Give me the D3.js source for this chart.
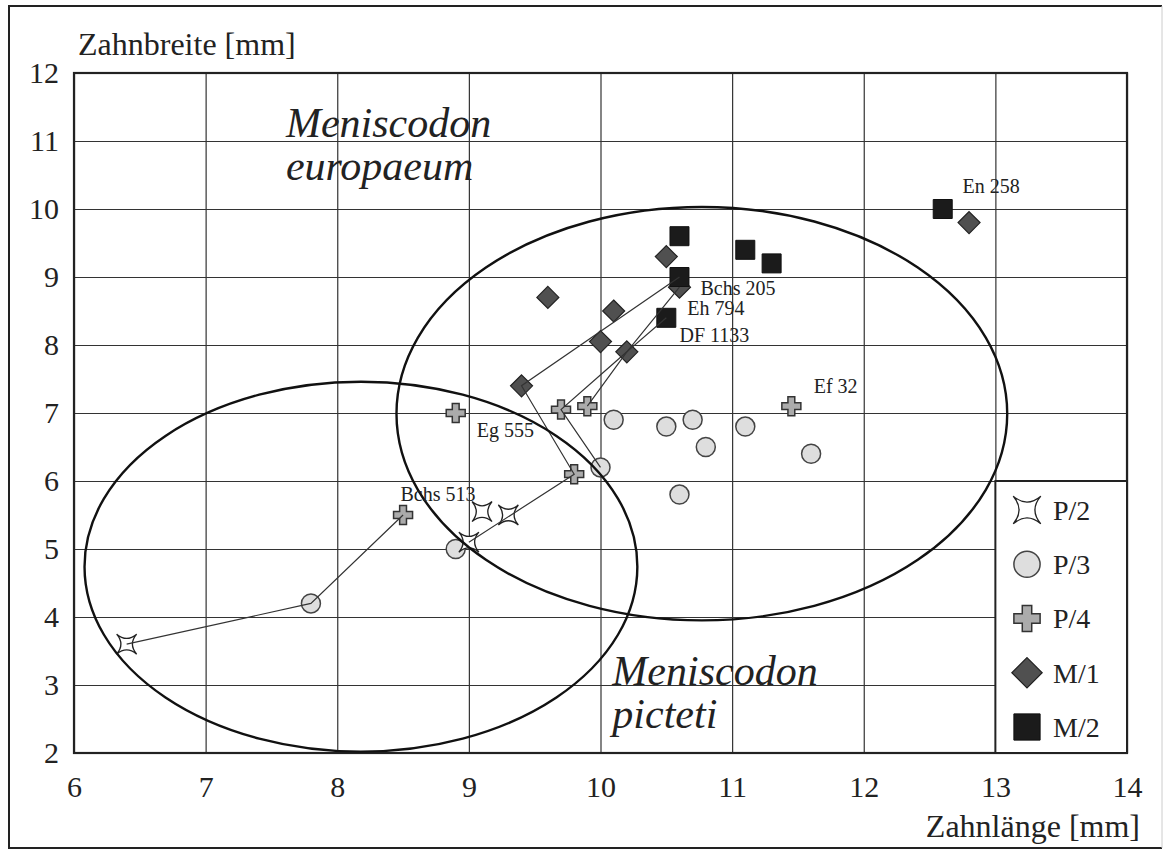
<!DOCTYPE html>
<html>
<head>
<meta charset="utf-8">
<script src="https://cdn.jsdelivr.net/npm/d3@7"></script>
<style>
  body { margin: 0; background: #fff; }
  svg { display: block; font-family: "Liberation Serif", "Times New Roman", serif; }
  svg text { font-family: "Liberation Serif", "Times New Roman", serif; }
</style>
</head>
<body>
<div id="chart"></div>
<script>
	// Data (Zahnlänge, Zahnbreite in mm)
	var p2Data = [[6.4, 3.6], [9.1, 5.55], [9.3, 5.5], [9.0, 5.1]];
	var p3Data = [[7.8, 4.2], [8.9, 5.0], [10.0, 6.2], [10.1, 6.9], [10.5, 6.8], [10.7, 6.9],
	              [10.8, 6.5], [11.1, 6.8], [11.6, 6.4], [10.6, 5.8]];
	var p4Data = [[8.5, 5.5], [8.9, 7.0], [9.7, 7.05], [9.9, 7.1], [9.8, 6.1], [11.45, 7.1]];
	var m1Data = [[9.4, 7.4], [9.6, 8.7], [10.0, 8.05], [10.1, 8.5], [10.2, 7.9], [10.5, 9.3],
	              [10.6, 8.85], [12.8, 9.8]];
	var m2Data = [[10.6, 9.6], [10.6, 9.0], [10.5, 8.4], [11.1, 9.4], [11.3, 9.2], [12.6, 10.0]];

	// tooth rows of single specimens
	var toothRows = [
	  [[6.4, 3.6], [7.8, 4.2], [8.5, 5.5]],
	  [[9.0, 5.1], [9.8, 6.1], [9.4, 7.4], [10.6, 9.0]],
	  [[10.0, 6.2], [9.7, 7.05], [10.2, 7.9], [10.6, 8.85]],
	  [[9.9, 7.1], [10.2, 7.9], [10.5, 8.4]]
	];

	// specimen labels: text, x, y (data units)
	var specimenLabels = [
	  ["En 258", 12.75, 10.24], ["Bchs 205", 10.76, 8.74], ["Eh 794", 10.66, 8.44],
	  ["DF 1133", 10.6, 8.05], ["Ef 32", 11.62, 7.29], ["Eg 555", 9.06, 6.65],
	  ["Bchs 513", 8.48, 5.7]
	];

	// ellipses: cx, cy, rx, ry (data units)
	var ellipseEuropaeum = [10.77, 6.99, 2.32, 3.04];
	var ellipsePicteti = [8.18, 4.74, 2.10, 2.72];

	var speciesLabels = [
	  [["Meniscodon", "europaeum"], 7.61, 11.06],
	  [["Meniscodon", "picteti"], 10.09, 3.0]
	];

	var xTicks = [6, 7, 8, 9, 10, 11, 12, 13, 14];
	var yTicks = [2, 3, 4, 5, 6, 7, 8, 9, 10, 11, 12];
	var legendNames = ["P/2", "P/3", "P/4", "M/1", "M/2"];

	//Setting up the canvas
	var svgWidth = 1169, svgHeight = 850;
	var plot = {left: 74, right: 1127, top: 73, bottom: 753};
	var serif = "'Liberation Serif', 'Times New Roman', serif";

	var x = d3.scaleLinear().domain([6, 14]).range([plot.left, plot.right]);
	var y = d3.scaleLinear().domain([2, 12]).range([plot.bottom, plot.top]);

	var svg = d3.select("#chart").append("svg")
	    .attr("width", svgWidth)
	    .attr("height", svgHeight);

	// outer frame
	svg.append("path")
	    .attr("d", "M1162,6 H9 V848 H1162")
	    .attr("fill", "none").attr("stroke", "#222").attr("stroke-width", 2);
	svg.append("line")
	    .attr("x1", 1162).attr("x2", 1162).attr("y1", 6).attr("y2", 848)
	    .attr("stroke", "#ccc").attr("stroke-width", 1);

	// grid
	var xGrid = d3.axisBottom(x).tickValues(xTicks).tickSize(-(plot.bottom - plot.top)).tickFormat("");
	var yGrid = d3.axisLeft(y).tickValues(yTicks).tickSize(-(plot.right - plot.left)).tickFormat("");

	svg.append("g")
	    .attr("transform", "translate(0," + plot.bottom + ")")
	    .call(xGrid)
	    .call(function(g) { g.select(".domain").remove(); })
	    .selectAll("line").attr("stroke", "#333").attr("stroke-width", 1.2);

	svg.append("g")
	    .attr("transform", "translate(" + plot.left + ",0)")
	    .call(yGrid)
	    .call(function(g) { g.select(".domain").remove(); })
	    .selectAll("line").attr("stroke", "#333").attr("stroke-width", 1.2);

	// tick labels
	var xAxis = d3.axisBottom(x).tickValues(xTicks).tickSize(0).tickPadding(23);
	var yAxis = d3.axisLeft(y).tickValues(yTicks).tickSize(0).tickPadding(15);

	svg.append("g")
	    .attr("transform", "translate(0," + plot.bottom + ")")
	    .call(xAxis)
	    .attr("font-family", serif)
	    .attr("font-size", 30)
	    .call(function(g) { g.select(".domain").remove(); })
	    .selectAll("text")
	      .style("font-family", serif).attr("fill", "#222");

	svg.append("g")
	    .attr("transform", "translate(" + plot.left + ",0)")
	    .call(yAxis)
	    .attr("font-family", serif)
	    .attr("font-size", 30)
	    .call(function(g) { g.select(".domain").remove(); })
	    .selectAll("text")
	      .style("font-family", serif).attr("fill", "#222");

	// plot frame
	svg.append("rect")
	    .attr("x", plot.left).attr("y", plot.top)
	    .attr("width", plot.right - plot.left).attr("height", plot.bottom - plot.top)
	    .attr("fill", "none").attr("stroke", "#222").attr("stroke-width", 2.2);

	// axis titles
	svg.append("text")
	    .attr("x", 78).attr("y", 55)
	    .attr("font-size", 32).attr("fill", "#222")
	    .text("Zahnbreite [mm]");
	svg.append("text")
	    .attr("x", 1140).attr("y", 837)
	    .attr("text-anchor", "end")
	    .attr("font-size", 32).attr("fill", "#222")
	    .text("Zahnlänge [mm]");

	// marker shapes
	function starPath(r) {
	  var c = -r * 0.15;
	  return "M" + (-r) + "," + (-r) +
	         "Q0," + c + " " + r + "," + (-r) +
	         "Q" + (-c) + ",0 " + r + "," + r +
	         "Q0," + (-c) + " " + (-r) + "," + r +
	         "Q" + c + ",0 " + (-r) + "," + (-r) + "Z";
	}
	function crossPath(r) {
	  var a = r * 0.36;
	  return "M" + (-a) + "," + (-r) + "H" + a + "V" + (-a) + "H" + r + "V" + a + "H" + a +
	         "V" + r + "H" + (-a) + "V" + a + "H" + (-r) + "V" + (-a) + "H" + (-a) + "Z";
	}
	function circlePath(r) {
	  return "M" + r + ",0A" + r + "," + r + " 0 1 1 " + (-r) + ",0A" + r + "," + r + " 0 1 1 " + r + ",0Z";
	}
	function diamondPath(r) {
	  return "M0," + (-r) + "L" + r + ",0L0," + r + "L" + (-r) + ",0Z";
	}
	function squarePath(r) {
	  return "M" + (-r) + "," + (-r) + "H" + r + "V" + r + "H" + (-r) + "Z";
	}

	var styles = [
	  {path: starPath, size: 10, fill: "#fff", stroke: "#222", sw: 1.3},
	  {path: circlePath, size: 9.5, fill: "#dedede", stroke: "#444", sw: 1.5},
	  {path: crossPath, size: 9.5, fill: "#ababab", stroke: "#333", sw: 1.5},
	  {path: diamondPath, size: 11, fill: "#505050", stroke: "#222", sw: 1.2},
	  {path: squarePath, size: 9.5, fill: "#1b1b1b", stroke: "#111", sw: 1}
	];
	var seriesData = [p3Data, p4Data, m1Data, m2Data, p2Data];
	var seriesStyle = [1, 2, 3, 4, 0];

	// points
	seriesData.forEach(function(data, i) {
	  var st = styles[seriesStyle[i]];
	  svg.append("g").selectAll("path")
	      .data(data)
	    .enter().append("path")
	      .attr("transform", function(d) { return "translate(" + x(d[0]) + "," + y(d[1]) + ")"; })
	      .attr("d", st.path(st.size))
	      .attr("fill", st.fill)
	      .attr("stroke", st.stroke)
	      .attr("stroke-width", st.sw);
	});

	// connecting lines
	var line = d3.line()
	    .x(function(d) { return x(d[0]); })
	    .y(function(d) { return y(d[1]); });

	svg.append("g").selectAll("path")
	    .data(toothRows)
	  .enter().append("path")
	    .attr("d", line)
	    .attr("fill", "none")
	    .attr("stroke", "#333")
	    .attr("stroke-width", 1.2);

	// ellipses
	[ellipseEuropaeum, ellipsePicteti].forEach(function(e) {
	  svg.append("ellipse")
	      .attr("cx", x(e[0])).attr("cy", y(e[1]))
	      .attr("rx", x(e[0] + e[2]) - x(e[0]))
	      .attr("ry", y(e[1]) - y(e[1] + e[3]))
	      .attr("fill", "none")
	      .attr("stroke", "#111")
	      .attr("stroke-width", 2.4);
	});

	// specimen labels
	svg.append("g").selectAll("text")
	    .data(specimenLabels)
	  .enter().append("text")
	    .attr("x", function(d) { return x(d[1]); })
	    .attr("y", function(d) { return y(d[2]); })
	    .attr("font-size", 20)
	    .attr("fill", "#222")
	    .text(function(d) { return d[0]; });

	// species names
	speciesLabels.forEach(function(s) {
	  var t = svg.append("text")
	      .attr("x", x(s[1])).attr("y", y(s[2]))
	      .attr("font-size", 42)
	      .attr("font-style", "italic")
	      .attr("fill", "#222");
	  s[0].forEach(function(w, i) {
	    t.append("tspan")
	        .attr("x", x(s[1]))
	        .attr("dy", i === 0 ? 0 : 43)
	        .text(w);
	  });
	});

	// legend
	var legend = svg.append("g");
	legend.append("rect")
	    .attr("x", x(13)).attr("y", y(6))
	    .attr("width", x(14) - x(13)).attr("height", y(2) - y(6))
	    .attr("fill", "#fff")
	    .attr("stroke", "#222")
	    .attr("stroke-width", 2);

	var legendY = d3.scalePoint().domain(legendNames).range([510, 727]);

	legendNames.forEach(function(name, i) {
	  var st = styles[i];
	  legend.append("path")
	      .attr("transform", "translate(1027," + legendY(name) + ")")
	      .attr("d", st.path(st.size * 1.38))
	      .attr("fill", st.fill)
	      .attr("stroke", st.stroke)
	      .attr("stroke-width", st.sw);
	  legend.append("text")
	      .attr("x", 1053).attr("y", legendY(name))
	      .attr("dy", "0.35em")
	      .attr("font-size", 28)
	      .attr("fill", "#222")
	      .text(name);
	});
</script>
</body>
</html>
